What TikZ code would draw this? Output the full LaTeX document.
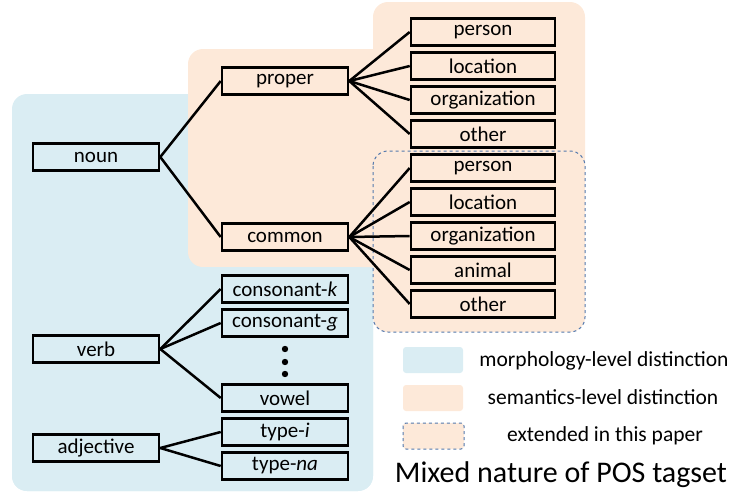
\documentclass[tikz,border=0pt]{standalone}
\usepackage{fontspec}
\setmainfont{Carlito}
\definecolor{morphblue}{HTML}{DAEDF3}
\definecolor{semapeach}{HTML}{FDE9D9}
\definecolor{extdash}{HTML}{5479AD}
\begin{document}
\begin{tikzpicture}[x=1pt,y=-1pt,color=black,
  tagbox/.style={draw,line width=2.6pt,minimum width=126pt,minimum height=27pt,inner sep=0pt,font=\fontsize{21}{24}\selectfont},
  leafbox/.style={tagbox,minimum width=144pt},
  branch/.style={line width=2.5pt},
  region/.style={rounded corners=15pt},
  legendtext/.style={font=\fontsize{21.5}{24}\selectfont}]

\useasboundingbox (0,0) rectangle (740,493);

% background regions
\fill[morphblue,region] (12,94) rectangle (373,491);
\fill[semapeach,region] (188,49) rectangle (400,267);
\fill[semapeach,region] (373,2) rectangle (585,332);
\fill[morphblue,region] (12,267) rectangle (373,491);
\draw[extdash,dashed,line width=1pt,region] (373,151) rectangle (585,332);

% first level
\node (noun) at (96,157)[tagbox]{noun};
\node (verb) at (96,349)[tagbox]{verb};
\node (adj) at (96,448)[tagbox]{adjective};

% second level
\node (proper) at (285,81)[tagbox]{proper};
\node (common) at (285,237)[tagbox]{common};
\draw[branch] (noun.east) -- (proper.west);
\draw[branch] (noun.east) -- (common.west);

\node (conk) at (285,289)[tagbox]{consonant-\textit{k}};
\node (cong) at (285,323)[tagbox]{consonant-\textit{g}};
\node (vowel) at (285,398)[tagbox]{vowel};
\foreach \y in {349,362,374}
{
\fill (285,\y) circle (3.2pt);
}
\foreach \c in {conk,cong,vowel}
{
\draw[branch] (verb.east) -- (\c.west);
}

\node (typei) at (285,432)[tagbox]{type-\textit{i}};
\node (typena) at (285,466)[tagbox]{type-\textit{na}};
\draw[branch] (adj.east) -- (typei.west);
\draw[branch] (adj.east) -- (typena.west);

% third level
\foreach \n/\t/\y in {pp/person/32,pl/location/66,po/organization/100,px/other/134}
{
\node (\n) at (483,\y)[leafbox]{\t};
\draw[branch] (proper.east) -- (\n.west);
}
\foreach \n/\t/\y in {cp/person/168,cl/location/202,co/organization/236,ca/animal/270,cx/other/304}
{
\node (\n) at (483,\y)[leafbox]{\t};
\draw[branch] (common.east) -- (\n.west);
}

% legend
\fill[morphblue,rounded corners=3pt] (403,347) rectangle (463,373);
\fill[semapeach,rounded corners=3pt] (403,385) rectangle (463,411);
\filldraw[fill=semapeach,draw=extdash,dashed,line width=1pt,rounded corners=3pt] (403,423) rectangle (464,449);
\node (morph) at (604,361)[legendtext]{morphology-level distinction};
\node (sema) at (603,397)[legendtext]{semantics-level distinction};
\node (ext) at (605,436)[legendtext]{extended in this paper};
\node (title) at (561,475)[font=\fontsize{30}{34}\selectfont]{Mixed nature of POS tagset};

\end{tikzpicture}
\end{document}
